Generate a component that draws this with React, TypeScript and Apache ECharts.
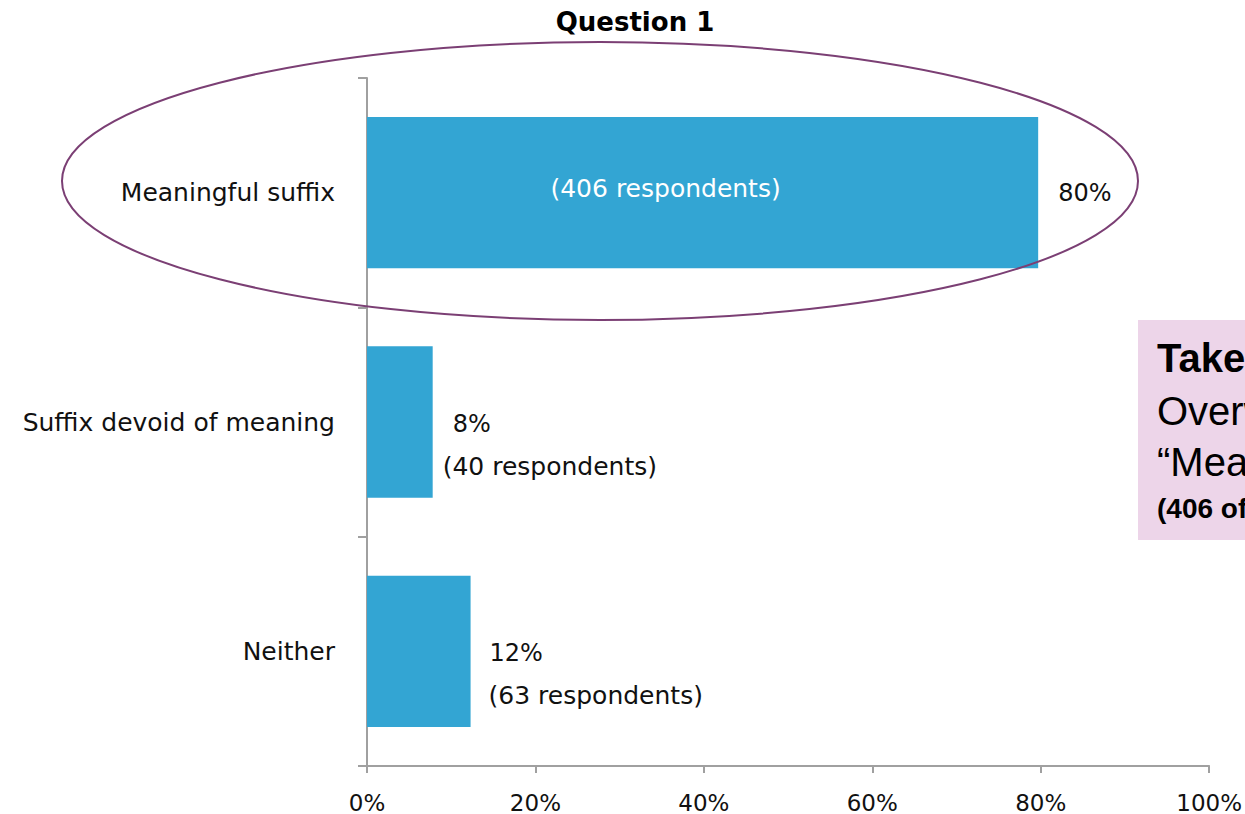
import React, { useEffect, useRef } from "react";
import * as echarts from "echarts";

const categories = ["Meaningful suffix", "Suffix devoid of meaning", "Neither"];
const shares = [79.7, 7.8, 12.3];
const shareLabels = ["80%", "8%", "12%"];
const respondents = [406, 40, 63];
const xTicks = [0, 20, 40, 60, 80, 100];

const FONT = "'DejaVu Sans', sans-serif";
const FS = 25;
const BAR = "#33A5D3";
const TXT = "#111111";
const BOX_FONT = "'Liberation Sans', Arial, sans-serif";

export default function App() {
  const ref = useRef<HTMLDivElement>(null);
  useEffect(() => {
    if (!ref.current) return;
    const chart = echarts.init(ref.current, undefined, { renderer: "svg" });

    const mainData = shares.map((v, i) => {
      if (i === 0) {
        return {
          value: v,
          label: {
            show: true,
            position: "right",
            distance: 20,
            formatter: shareLabels[i],
            fontSize: 24,
            fontFamily: FONT,
            color: TXT,
          },
        };
      }
      return {
        value: v,
        label: {
          show: true,
          position: "right",
          distance: i === 1 ? 10 : 18,
          offset: [0, 23],
          formatter: `{a|${shareLabels[i]}}\n{b|(${respondents[i]} respondents)}`,
          rich: {
            a: {
              fontSize: 24,
              fontFamily: FONT,
              color: TXT,
              lineHeight: 42,
              padding: [0, 0, 0, i === 1 ? 10 : 1],
            },
            b: { fontSize: FS, fontFamily: FONT, color: TXT, lineHeight: 42 },
          },
        },
      };
    });

    const innerData = shares.map((v, i) => ({
      value: v,
      label: {
        show: i === 0,
        position: "inside",
        offset: [-37, -4],
        formatter: `(${respondents[i]} respondents)`,
        fontSize: FS,
        fontFamily: FONT,
        color: "#ffffff",
      },
    }));

    chart.setOption({
      animation: false,
      title: {
        text: "Question 1",
        left: 630,
        top: 4,
        textAlign: "center",
        textStyle: {
          fontFamily: FONT,
          fontWeight: "bold",
          fontSize: 26,
          color: "#000",
        },
      },
      grid: { left: 367, right: 35, top: 78, bottom: 48, containLabel: false },
      xAxis: {
        type: "value",
        min: 0,
        max: 100,
        interval: 20,
        axisLine: { show: true, lineStyle: { color: "#A0A0A0", width: 2 } },
        axisTick: { show: true, length: 7, lineStyle: { color: "#A0A0A0", width: 2 } },
        splitLine: { show: false },
        axisLabel: {
          formatter: (v: number) => (xTicks.includes(v) ? `${v}%` : ""),
          fontSize: 23,
          fontFamily: FONT,
          color: TXT,
          margin: 25,
        },
      },
      yAxis: {
        type: "category",
        data: categories,
        inverse: true,
        axisLine: { show: true, lineStyle: { color: "#A0A0A0", width: 2 } },
        axisTick: { show: true, length: 9, lineStyle: { color: "#A0A0A0", width: 2 } },
        axisLabel: {
          fontSize: FS,
          fontFamily: FONT,
          color: TXT,
          margin: 32,
        },
      },
      series: [
        {
          type: "bar",
          data: mainData,
          barCategoryGap: "34%",
          itemStyle: { color: BAR },
          z: 2,
        },
        {
          type: "bar",
          data: innerData,
          barGap: "-100%",
          barCategoryGap: "34%",
          itemStyle: { color: "rgba(0,0,0,0)" },
          z: 3,
          silent: true,
        },
      ],
      graphic: [
        {
          type: "ellipse",
          shape: { cx: 600, cy: 181, rx: 538, ry: 139 },
          style: { fill: "none", stroke: "#7B3F74", lineWidth: 2 },
          z: 100,
        },
        {
          type: "rect",
          shape: { x: 1138, y: 320, width: 130, height: 220 },
          style: { fill: "#EDD5E9" },
          z: 50,
        },
        {
          type: "text",
          x: 1157,
          y: 358,
          style: {
            text: "Takeaway:",
            font: `bold 40px ${BOX_FONT}`,
            fill: "#000",
            verticalAlign: "middle",
          },
          z: 51,
        },
        {
          type: "text",
          x: 1157,
          y: 411,
          style: {
            text: "Overwhelmingly",
            font: `40px ${BOX_FONT}`,
            fill: "#000",
            verticalAlign: "middle",
          },
          z: 51,
        },
        {
          type: "text",
          x: 1157,
          y: 462,
          style: {
            text: "\u201CMeaningful suffix\u201D",
            font: `40px ${BOX_FONT}`,
            fill: "#000",
            verticalAlign: "middle",
          },
          z: 51,
        },
        {
          type: "text",
          x: 1157,
          y: 508,
          style: {
            text: "(406 of 509 respondents)",
            font: `bold 28px ${BOX_FONT}`,
            fill: "#000",
            verticalAlign: "middle",
          },
          z: 51,
        },
      ],
    });
    return () => chart.dispose();
  }, []);

  return (
    <div
      ref={ref}
      style={{ position: "fixed", left: 0, top: 0, width: 1245, height: 814, background: "#fff" }}
    />
  );
}
